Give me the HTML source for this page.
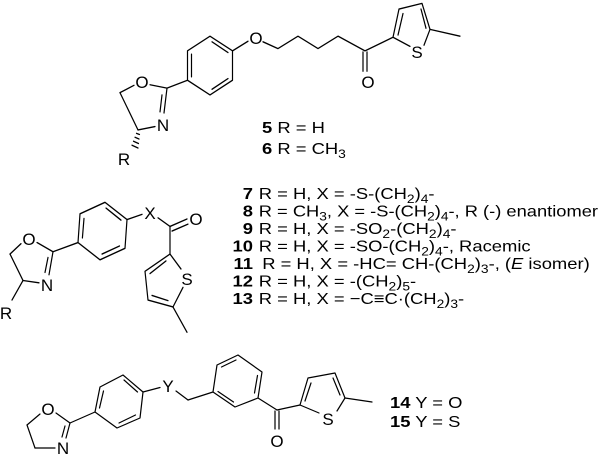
<!DOCTYPE html>
<html><head><meta charset="utf-8"><style>
html,body{margin:0;padding:0;background:#fff;}
svg{display:block;}
text{font-family:"Liberation Sans",Arial,sans-serif;fill:#000;}
</style></head><body>
<svg width="600" height="455" viewBox="0 0 600 455" xmlns="http://www.w3.org/2000/svg">
<g stroke="#000" stroke-width="1.2" fill="none" stroke-linecap="round" stroke-linejoin="round">
<!-- TOP -->
<g transform="scale(1,1.13)">
<line x1="120" y1="82" x2="134" y2="75.5"/>
<line x1="150" y1="75" x2="167" y2="78"/>
<line x1="167" y1="78" x2="164" y2="100"/>
<line x1="162" y1="84" x2="160" y2="99"/>
<line x1="155" y1="112" x2="138" y2="115"/>
<line x1="138" y1="115" x2="120" y2="82"/>
<line x1="136.5" y1="118" x2="139.5" y2="119"/>
<line x1="135" y1="121.5" x2="139" y2="123"/>
<line x1="133.5" y1="125" x2="138.5" y2="127"/>
<line x1="132" y1="128.5" x2="138" y2="131"/>
<line x1="167" y1="78" x2="187.5" y2="71"/>
<polygon points="210,32 232.5,45 232.5,71 210,84 187.5,71 187.5,45"/>
<line x1="191.5" y1="48" x2="191.5" y2="68"/>
<line x1="212" y1="37" x2="228" y2="46.5"/>
<line x1="228" y1="69.5" x2="212" y2="79"/>
<line x1="232.5" y1="45" x2="248" y2="36.5"/>
<polyline points="263,37 278,43 298,32 318,43 338,32 365,45 393,33"/>
<line x1="363" y1="46" x2="363" y2="63"/>
<line x1="367" y1="46" x2="367" y2="63"/>
<polyline points="393,33 399,8 422,3 430,26"/>
<line x1="398" y1="31" x2="403" y2="12"/>
<line x1="421" y1="8" x2="426" y2="25"/>
<line x1="393" y1="33" x2="410" y2="41"/>
<line x1="424" y1="40" x2="430" y2="26"/>
<line x1="430" y1="26" x2="460" y2="32"/>
</g>
<!-- MIDDLE -->
<g transform="translate(0,200) scale(1,1.15) translate(0,-200)">
<line x1="10" y1="247" x2="21" y2="238"/>
<line x1="37" y1="237" x2="53" y2="245"/>
<line x1="53" y1="245" x2="49" y2="265"/>
<line x1="48" y1="250" x2="45" y2="263"/>
<line x1="39" y1="272" x2="23" y2="270"/>
<line x1="23" y1="270" x2="10" y2="247"/>
<line x1="23" y1="270" x2="12" y2="287"/>
<line x1="53" y1="245" x2="78" y2="237"/>
<polygon points="78,237 80,212 105,202 127,217 125,242 100,252"/>
<line x1="82.4" y1="233" x2="84" y2="216"/>
<line x1="106" y1="207" x2="121" y2="217.5"/>
<line x1="119.5" y1="240" x2="102" y2="247"/>
<line x1="127" y1="217" x2="142" y2="212.5"/>
<line x1="158" y1="215.5" x2="170" y2="223"/>
<line x1="170" y1="223" x2="187" y2="216.5"/>
<line x1="172" y1="227" x2="188" y2="221"/>
<line x1="170" y1="223" x2="170" y2="247"/>
<line x1="170" y1="247" x2="181" y2="260"/>
<line x1="183" y1="276" x2="173" y2="293"/>
<polyline points="173,293 148,287 145,262 170,247"/>
<line x1="152" y1="283" x2="168" y2="287.5"/>
<line x1="150" y1="264" x2="166" y2="253"/>
<line x1="173" y1="293" x2="187" y2="315"/>
</g>
<!-- BOTTOM -->
<line x1="27" y1="425" x2="40" y2="414"/>
<line x1="56" y1="413" x2="70" y2="423"/>
<line x1="70" y1="423" x2="66" y2="438"/>
<line x1="65" y1="426" x2="62" y2="437"/>
<line x1="55" y1="448" x2="35" y2="448"/>
<line x1="35" y1="448" x2="27" y2="425"/>
<line x1="70" y1="423" x2="95" y2="412"/>
<polygon points="95,412 100,387 123,375 143,392 140,418 117,428"/>
<line x1="99.5" y1="408" x2="103.5" y2="391"/>
<line x1="124" y1="380" x2="137.5" y2="392"/>
<line x1="135.5" y1="415" x2="119" y2="423"/>
<line x1="143" y1="392" x2="160" y2="387.5"/>
<line x1="176" y1="391" x2="188" y2="400"/>
<line x1="188" y1="400" x2="213" y2="392"/>
<polygon points="213,392 217,365 238,355 262,372 258,398 235,407"/>
<line x1="221.5" y1="367" x2="236" y2="360"/>
<line x1="257.5" y1="375.5" x2="254.5" y2="393"/>
<line x1="233.5" y1="402" x2="218" y2="391.5"/>
<line x1="258" y1="398" x2="277" y2="410"/>
<line x1="275" y1="411" x2="275" y2="429"/>
<line x1="279" y1="411" x2="279" y2="429"/>
<line x1="277" y1="410" x2="300" y2="405"/>
<polyline points="300,405 308,378 335,373 345,398"/>
<line x1="305" y1="401" x2="311" y2="383"/>
<line x1="333" y1="378" x2="340" y2="395"/>
<line x1="300" y1="405" x2="319" y2="413"/>
<line x1="337" y1="411" x2="345" y2="398"/>
<line x1="345" y1="398" x2="372" y2="402"/>
</g>
<g font-size="17" text-anchor="middle">
<text x="142" y="88">O</text>
<text x="163" y="131">N</text>
<text x="124" y="165">R</text>
<text x="256" y="44">O</text>
<text x="368" y="88">O</text>
<text x="417" y="58">S</text>
<text x="29" y="245">O</text>
<text x="47" y="291">N</text>
<text x="6" y="319">R</text>
<text x="150" y="219">X</text>
<text x="196" y="225">O</text>
<text x="187" y="285">S</text>
<text x="48" y="415">O</text>
<text x="63" y="454">N</text>
<text x="168" y="392">Y</text>
<text x="277" y="447">O</text>
<text x="328" y="425">S</text>
</g>
<g font-size="16" transform="translate(262,0) scale(1.15,1) translate(-262,0)">
<text x="262" y="133"><tspan font-weight="bold">5</tspan> R = H</text>
<text x="262" y="154"><tspan font-weight="bold">6</tspan> R = CH<tspan font-size="12" dy="4">3</tspan></text>
</g>
<g font-size="16" transform="translate(390,0) scale(1.15,1) translate(-390,0)">
<text x="390" y="408"><tspan font-weight="bold">14</tspan>  Y = O</text>
<text x="390" y="427"><tspan font-weight="bold">15</tspan>  Y = S</text>
</g>
<g font-size="16" transform="translate(253,0) scale(1.15,1) translate(-253,0)">
<text x="253" y="199" text-anchor="end" font-weight="bold">7</text>
<text x="253" y="216.5" text-anchor="end" font-weight="bold">8</text>
<text x="253" y="234" text-anchor="end" font-weight="bold">9</text>
<text x="253" y="251.5" text-anchor="end" font-weight="bold">10</text>
<text x="253" y="269" text-anchor="end" font-weight="bold">11</text>
<text x="253" y="286.5" text-anchor="end" font-weight="bold">12</text>
<text x="253" y="304" text-anchor="end" font-weight="bold">13</text>
<text x="258" y="199">R = H, X = -S-(CH<tspan font-size="12" dy="4">2</tspan><tspan dy="-4">)</tspan><tspan font-size="12" dy="4">4</tspan><tspan dy="-4">-</tspan></text>
<text x="258" y="216.5" textLength="295" lengthAdjust="spacingAndGlyphs">R = CH<tspan font-size="12" dy="4">3</tspan><tspan dy="-4">, X = -S-(CH</tspan><tspan font-size="12" dy="4">2</tspan><tspan dy="-4">)</tspan><tspan font-size="12" dy="4">4</tspan><tspan dy="-4">-, R (-) enantiomer</tspan></text>
<text x="258" y="234">R = H, X = -SO<tspan font-size="12" dy="4">2</tspan><tspan dy="-4">-(CH</tspan><tspan font-size="12" dy="4">2</tspan><tspan dy="-4">)</tspan><tspan font-size="12" dy="4">4</tspan><tspan dy="-4">-</tspan></text>
<text x="258" y="251.5">R = H, X = -SO-(CH<tspan font-size="12" dy="4">2</tspan><tspan dy="-4">)</tspan><tspan font-size="12" dy="4">4</tspan><tspan dy="-4">-, Racemic</tspan></text>
<text x="261" y="269">R = H, X = -HC= CH-(CH<tspan font-size="12" dy="4">2</tspan><tspan dy="-4">)</tspan><tspan font-size="12" dy="4">3</tspan><tspan dy="-4">-, (</tspan><tspan font-style="italic">E</tspan> isomer)</text>
<text x="258" y="286.5">R = H, X = -(CH<tspan font-size="12" dy="4">2</tspan><tspan dy="-4">)</tspan><tspan font-size="12" dy="4">5</tspan><tspan dy="-4">-</tspan></text>
<text x="258" y="304">R = H, X = −C≡C·(CH<tspan font-size="12" dy="4">2</tspan><tspan dy="-4">)</tspan><tspan font-size="12" dy="4">3</tspan><tspan dy="-4">-</tspan></text>
</g>
</svg>
</body></html>
